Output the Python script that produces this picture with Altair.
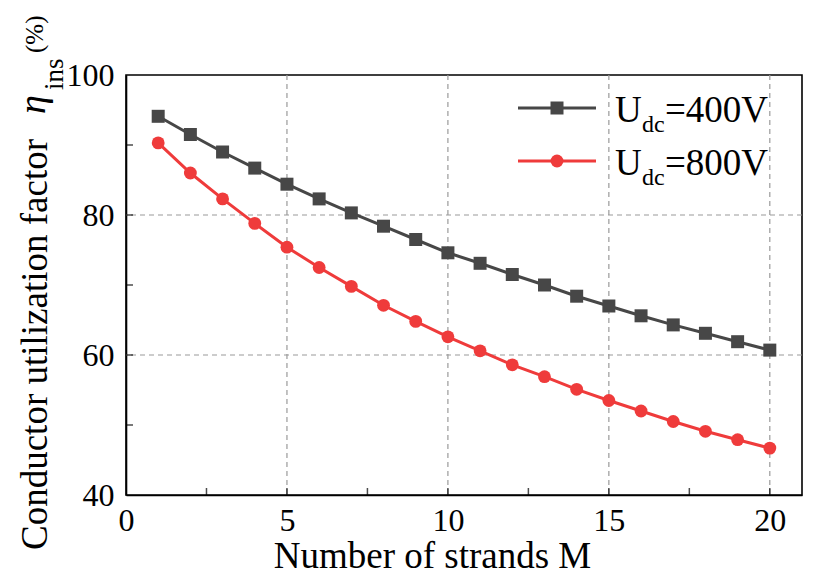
import altair as alt
import pandas as pd

FONT = "Liberation Serif"

# ---- data ----
strands = list(range(1, 21))
eta_400 = [94.1, 91.5, 89.0, 86.7, 84.4, 82.3, 80.3, 78.4, 76.5, 74.6,
           73.1, 71.5, 70.0, 68.4, 67.0, 65.6, 64.3, 63.1, 61.9, 60.7]
eta_800 = [90.3, 86.0, 82.3, 78.8, 75.4, 72.5, 69.8, 67.1, 64.8, 62.6,
           60.6, 58.6, 56.9, 55.1, 53.5, 52.0, 50.5, 49.1, 47.9, 46.7]
series = ["Udc=400V", "Udc=800V"]
colors = ["#474747", "#ef3b3b"]
shapes = ["square", "circle"]
marker_sizes = [169, 165]

x_labels = [0, 5, 10, 15, 20]
y_labels = [40, 60, 80, 100]
x_grid = [5, 10, 15, 20]
y_grid = [60, 80]
x_tick_pos = [2.5, 5, 7.5, 10, 12.5, 15, 17.5, 20]
y_tick_pos = [50, 60, 70, 80, 90]

W, H = 676, 420

df = pd.DataFrame({
    "M": strands * 2,
    "eta": eta_400 + eta_800,
    "series": [series[0]] * len(strands) + [series[1]] * len(strands),
})

xs = alt.Scale(domain=[0, 21], nice=False, zero=False)
ys = alt.Scale(domain=[40, 100], nice=False, zero=False)
cs = alt.Scale(domain=series, range=colors)

x_axis = alt.Axis(values=x_labels, title="Number of strands M", ticks=False, grid=False,
                  labelFont=FONT, labelFontSize=32, labelColor="black", labelPadding=10,
                  titleFont=FONT, titleFontSize=37, titleFontWeight="normal", titleColor="black",
                  titlePadding=2, titleX=306, titleAlign="center",
                  domainColor="black", domainWidth=1.6, labelFlush=False)
y_axis = alt.Axis(values=y_labels, title=None, ticks=False, grid=False,
                  labelFont=FONT, labelFontSize=32, labelColor="black", labelPadding=12,
                  domainColor="black", domainWidth=1.6, labelFlush=False)

base = alt.Chart(df)

lines = base.mark_line(strokeWidth=3).encode(
    x=alt.X("M:Q", scale=xs, axis=x_axis),
    y=alt.Y("eta:Q", scale=ys, axis=y_axis),
    color=alt.Color("series:N", scale=cs, legend=None),
)
points = base.mark_point(filled=True, opacity=1).encode(
    x=alt.X("M:Q", scale=xs),
    y=alt.Y("eta:Q", scale=ys),
    color=alt.Color("series:N", scale=cs, legend=None),
    shape=alt.Shape("series:N", scale=alt.Scale(domain=series, range=shapes), legend=None),
    size=alt.Size("series:N", scale=alt.Scale(domain=series, range=marker_sizes), legend=None),
)

grid_style = dict(color="#9a9a9a", strokeWidth=1.2, strokeDash=[5, 4])
xgrid = alt.Chart(pd.DataFrame({"v": x_grid})).mark_rule(**grid_style).encode(
    x=alt.X("v:Q", scale=xs))
ygrid = alt.Chart(pd.DataFrame({"v": y_grid})).mark_rule(**grid_style).encode(
    y=alt.Y("v:Q", scale=ys))

xticks = alt.Chart(pd.DataFrame({"v": x_tick_pos})).mark_tick(
    orient="vertical", size=7, thickness=1.5, color="black").encode(
    x=alt.X("v:Q", scale=xs), y=alt.value(H - 3.5))
yticks = alt.Chart(pd.DataFrame({"v": y_tick_pos})).mark_tick(
    orient="horizontal", size=7, thickness=1.5, color="black").encode(
    y=alt.Y("v:Q", scale=ys), x=alt.value(3.5))


def txt(s, x, y, size, angle=0, style="normal"):
    return alt.Chart(pd.DataFrame({"t": [s]})).mark_text(
        align="left", baseline="alphabetic", font=FONT, fontSize=size,
        fontStyle=style, angle=angle, color="black").encode(
        text="t:N", x=alt.value(x), y=alt.value(y))


# y-axis title with italic eta, subscript and (%)
ytitle = [
    txt("Conductor utilization factor", -79, 475, 37, angle=270),
    txt("η", -81, 39, 38, angle=270, style="italic"),
    txt("ins", -63, 15, 27, angle=270),
    txt("(%)", -83, -22, 25, angle=270),
]

# legend
legend = []
for i, (name, col, shp, sz) in enumerate(zip(series, colors, shapes, marker_sizes)):
    yy = 33 + 53 * i
    one = pd.DataFrame({"s": [name]})
    legend.append(alt.Chart(one).mark_rule(color=col, strokeWidth=3).encode(
        x=alt.value(392), x2=alt.value(470), y=alt.value(yy)))
    legend.append(alt.Chart(one).mark_point(filled=True, opacity=1, shape=shp, size=sz,
                                            color=col).encode(x=alt.value(431), y=alt.value(yy)))
    legend.append(txt("U", 489, yy + 14, 37))
    legend.append(txt("dc", 516, yy + 24, 24))
    legend.append(txt("=" + name.split("=")[1], 539, yy + 14, 37))

chart = alt.layer(xgrid, ygrid, lines, points, xticks, yticks, *ytitle, *legend).properties(
    width=W, height=H,
    autosize=alt.AutoSizeParams(type="none"),
    padding={"left": 118, "top": 67, "right": 5, "bottom": 81},
    background="white",
).configure_view(stroke="black", strokeWidth=1.6)

chart.save("out.html", embed_options={"renderer": "svg", "actions": False})
